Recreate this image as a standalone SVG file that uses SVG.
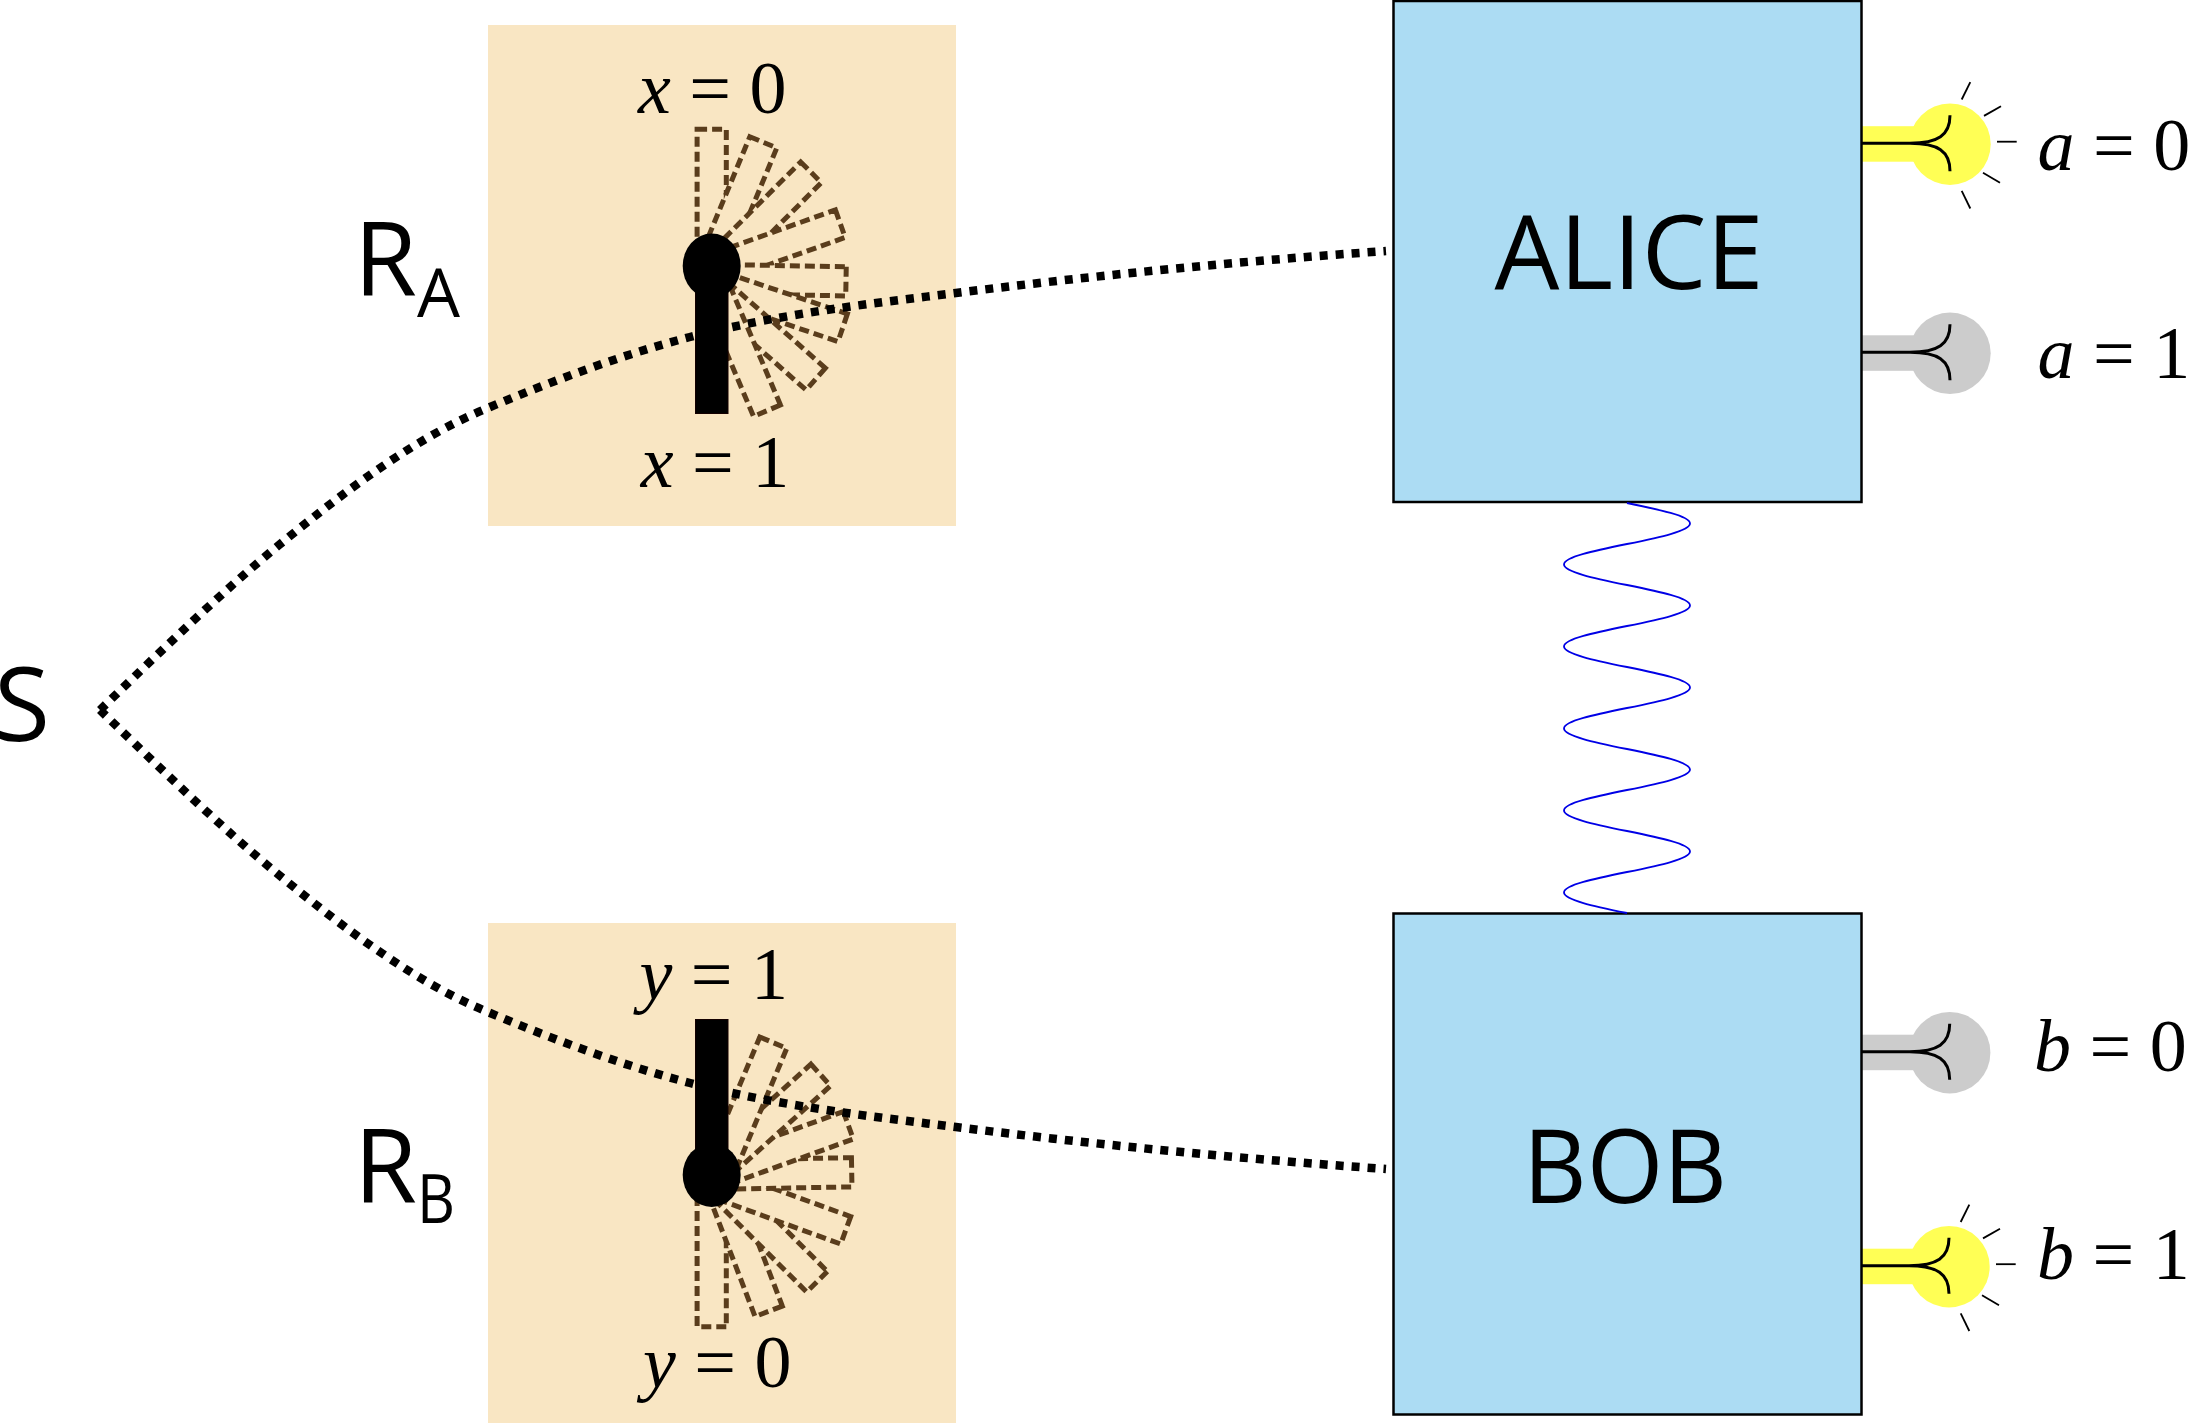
<svg xmlns="http://www.w3.org/2000/svg" xmlns:xlink="http://www.w3.org/1999/xlink" width="2188" height="1423" viewBox="0 0 2188 1423">
<style>
.panel{fill:#f9e6c3}
.box{fill:#acdcf3;stroke:#000;stroke-width:2.5}
.fan rect{fill:#f9e6c3;stroke:#5a3d1c;stroke-width:5;stroke-dasharray:10 5}
.lever{fill:#000;stroke:#140000;stroke-width:1}
.dots{fill:none;stroke:#000;stroke-width:8.5;stroke-dasharray:8 8}
.wave{fill:none;stroke:#0000e6;stroke-width:1.8}
.sans{font-family:"Open Sans","Noto Sans",sans-serif;fill:#000}
.big{font-size:102px}
.sub{font-size:68px}
.math{font-family:"Liberation Serif","Times New Roman",serif;font-size:74px;fill:#000}
.math .i{font-style:italic}
.fil{fill:none;stroke:#000;stroke-width:3}
.ray{stroke:#000;stroke-width:1.8}
</style>
<defs>
<g id="bulb-base">
<circle cx="0" cy="0" r="40.7"/>
<rect x="-89" y="-18" width="60" height="35.5"/>
</g>
<path id="filament" class="fil" d="M-88 -1H-40C-12 -1 0 -9 0 -29M-88 -1H-40C-12 -1 0 7 0 27"/>
<g id="rays" class="ray">
<line x1="11.7" y1="-44.7" x2="20.3" y2="-62"/>
<line x1="34" y1="-28.3" x2="51" y2="-38"/>
<line x1="47" y1="-2.5" x2="66.7" y2="-2.5"/>
<line x1="33" y1="28.5" x2="50" y2="38.5"/>
<line x1="11.7" y1="46.7" x2="20.3" y2="64.3"/>
</g>
</defs>
<rect width="2188" height="1423" fill="#fff"/>

<g id="switch-a">
<rect class="panel" x="488" y="25" width="468" height="501"/>
<g class="fan">
<rect transform="translate(711.7 129.3) rotate(0)" x="-14.6" width="29.2" height="137"/>
<rect transform="translate(763.3 142.3) rotate(22.5)" x="-14.6" width="29.2" height="130"/>
<rect transform="translate(811 172.3) rotate(45)" x="-14.6" width="29.2" height="130"/>
<rect transform="translate(840.3 223.7) rotate(70.4)" x="-14.6" width="29.2" height="132"/>
<rect transform="translate(846 281.3) rotate(91)" x="-14.6" width="29.2" height="134"/>
<rect transform="translate(842.7 327.7) rotate(108.6)" x="-14.6" width="29.2" height="140"/>
<rect transform="translate(815.7 379) rotate(131.4)" x="-14.6" width="29.2" height="148"/>
<rect transform="translate(767 410.7) rotate(157)" x="-14.6" width="29.2" height="148"/>
</g>
<rect class="lever" x="695.5" y="266" width="32.5" height="147.5"/>
<ellipse cx="711.7" cy="266" rx="29" ry="32.5"/>
<text class="math" x="638" y="113"><tspan class="i">x</tspan> = 0</text>
<text class="math" x="640.7" y="486.7"><tspan class="i">x</tspan> = 1</text>
<text class="sans big" x="354" y="296">R<tspan class="sub" dy="21">A</tspan></text>
</g>

<g id="switch-b">
<rect class="panel" x="488" y="923" width="468" height="500"/>
<g class="fan">
<rect transform="translate(711.7 1326.7) rotate(180)" x="-14.6" width="29.2" height="150"/>
<rect transform="translate(768.7 1311.3) rotate(159)" x="-14.6" width="29.2" height="140"/>
<rect transform="translate(817 1281.7) rotate(135)" x="-14.6" width="29.2" height="142"/>
<rect transform="translate(845.7 1230.3) rotate(110)" x="-14.6" width="29.2" height="140"/>
<rect transform="translate(851.7 1172.3) rotate(89)" x="-14.6" width="29.2" height="140"/>
<rect transform="translate(848.3 1125.3) rotate(70)" x="-14.6" width="29.2" height="140"/>
<rect transform="translate(820.7 1075) rotate(48)" x="-14.6" width="29.2" height="140"/>
<rect transform="translate(773.3 1042.7) rotate(22.7)" x="-14.6" width="29.2" height="140"/>
</g>
<rect class="lever" x="695.5" y="1019.5" width="32.5" height="155"/>
<ellipse cx="711.7" cy="1175" rx="29" ry="32"/>
<text class="math" x="639.5" y="999"><tspan class="i">y</tspan> = 1</text>
<text class="math" x="643" y="1386.7"><tspan class="i">y</tspan> = 0</text>
<text class="sans big" x="354" y="1203">R<tspan class="sub" dy="20" textLength="38" lengthAdjust="spacingAndGlyphs">B</tspan></text>
</g>

<g id="source">
<text class="sans big" x="-6" y="741">S</text>
</g>

<g id="bulb-a0">
<use href="#bulb-base" transform="translate(1950 144.2)" fill="#ffff55"/>
<use href="#rays" transform="translate(1950 144.2)"/>
<use href="#filament" transform="translate(1950 144.2)"/>
<text class="math" x="2037.5" y="170"><tspan class="i">a</tspan> = 0</text>
</g>
<g id="bulb-a1">
<use href="#bulb-base" transform="translate(1950 353.3)" fill="#cccccc"/>
<use href="#filament" transform="translate(1950 353.3)"/>
<text class="math" x="2037.5" y="378"><tspan class="i">a</tspan> = 1</text>
</g>
<g id="bulb-b0">
<use href="#bulb-base" transform="translate(1949.7 1052.7)" fill="#cccccc"/>
<use href="#filament" transform="translate(1949.7 1052.7)"/>
<text class="math" x="2034" y="1071"><tspan class="i">b</tspan> = 0</text>
</g>
<g id="bulb-b1">
<use href="#bulb-base" transform="translate(1949 1266.7)" fill="#ffff55"/>
<use href="#rays" transform="translate(1949 1266.7)"/>
<use href="#filament" transform="translate(1949 1266.7)"/>
<text class="math" x="2037" y="1279"><tspan class="i">b</tspan> = 1</text>
</g>

<g id="alice">
<rect class="box" x="1393.5" y="1" width="468" height="501"/>
<text class="sans big" x="1629" y="289" text-anchor="middle" textLength="269" lengthAdjust="spacingAndGlyphs">ALICE</text>
</g>
<g id="bob">
<rect class="box" x="1393.5" y="913.5" width="468" height="501"/>
<text class="sans big" x="1625" y="1203" text-anchor="middle" textLength="204" lengthAdjust="spacingAndGlyphs">BOB</text>
</g>

<g id="connectors">
<path class="dots" d="M100 710C161 651 220 593.4 279 545C347 489.2 415 438.6 483 410C552 381 621 355 690 337C778.7 314 867.3 304 956 293C1099 275 1243 261 1386 251"/>
<path class="dots" d="M100 710C161 769 220 826.6 279 875C347 930.8 415 981.4 483 1010C552 1039 621 1065 690 1083C778.7 1106 867.3 1116 956 1127C1099 1145 1243 1159 1386 1169"/>
<path class="wave" d="M1627 503c32.3 6.7 63 13.1 63 20.5c0 7.4 -30.7 13.8 -63 20.5c-32.3 6.7 -63 13.1 -63 20.5c0 7.4 30.7 13.8 63 20.5c32.3 6.7 63 13.1 63 20.5c0 7.4 -30.7 13.8 -63 20.5c-32.3 6.7 -63 13.1 -63 20.5c0 7.4 30.7 13.8 63 20.5c32.3 6.7 63 13.1 63 20.5c0 7.4 -30.7 13.8 -63 20.5c-32.3 6.7 -63 13.1 -63 20.5c0 7.4 30.7 13.8 63 20.5c32.3 6.7 63 13.1 63 20.5c0 7.4 -30.7 13.8 -63 20.5c-32.3 6.7 -63 13.1 -63 20.5c0 7.4 30.7 13.8 63 20.5c32.3 6.7 63 13.1 63 20.5c0 7.4 -30.7 13.8 -63 20.5c-32.3 6.7 -63 13.1 -63 20.5c0 7.4 30.7 13.8 63 20.5"/>
</g>
</svg>
